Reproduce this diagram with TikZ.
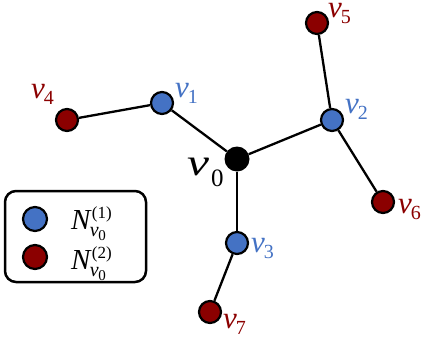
\documentclass[tikz,border=0pt]{standalone}
\usepackage{graphicx}
\usepackage{fontspec}
\setmainfont{Liberation Serif}
\definecolor{nblue}{RGB}{68,114,196}
\definecolor{nred}{RGB}{139,0,0}
\newcommand\vlab[1]{\fontsize{31}{31}\selectfont\textit{v}\kern-1pt\raisebox{-6pt}{\fontsize{20}{20}\selectfont #1}}
\newcommand\nlab[1]{\fontsize{29}{29}\selectfont\textit{N}\rlap{\raisebox{11pt}{\fontsize{17}{17}\selectfont(#1)}}\kern-2pt\raisebox{-7pt}{\fontsize{20}{20}\selectfont\textit{v}\kern-0.5pt\raisebox{-4pt}{\fontsize{15}{15}\selectfont 0}}}
\begin{document}
\begin{tikzpicture}[x=1pt,y=-1pt,
  vtx/.style={circle,draw=black,line width=2.2pt,minimum size=22pt,inner sep=0pt},
  bv/.style={vtx,fill=nblue},
  rv/.style={vtx,fill=nred},
  lab/.style={anchor=base west,inner sep=0pt},
  edge/.style={line width=2.3pt,black}]
\useasboundingbox (0,0) rectangle (423,338);
\node[circle,fill=black,minimum size=25pt,inner sep=0pt] (v0) at (237,159) {};
\node[bv] (v1) at (162,103) {};
\node[bv] (v2) at (332,120) {};
\node[bv] (v3) at (237,243) {};
\node[rv] (v4) at (67,120) {};
\node[rv] (v5) at (317,23) {};
\node[rv] (v6) at (383,202) {};
\node[rv] (v7) at (210,312) {};
\draw[edge] (v0) -- (v1);
\draw[edge] (v0) -- (v2);
\draw[edge] (v0) -- (v3);
\draw[edge] (v1) -- (v4);
\draw[edge] (v2) -- (v5);
\draw[edge] (v2) -- (v6);
\draw[edge] (v3) -- (v7);
\node[lab,text=nblue] (l1) at (175,97) {\vlab{1}};
\node[lab,text=nblue] (l2) at (345,113) {\vlab{2}};
\node[lab,text=nblue] (l3) at (251,252) {\vlab{3}};
\node[lab,text=nred] (l4) at (31,98) {\vlab{4}};
\node[lab,text=nred] (l5) at (328,17) {\vlab{5}};
\node[lab,text=nred] (l6) at (398,213) {\vlab{6}};
\node[lab,text=nred] (l7) at (223,328) {\vlab{7}};
\node[lab] (l0) at (187,175) {\fontsize{38}{38}\selectfont\scalebox{1.3}[1]{\textit{v}}\kern2pt\raisebox{-11pt}{\fontsize{25}{25}\selectfont 0}};
\node[draw,line width=2.5pt,rounded corners=11pt,minimum width=141pt,minimum height=91pt,inner sep=0pt] (legend) at (75.5,236.5) {};
\node[bv,minimum size=24pt] (lb) at (35,219) {};
\node[rv,minimum size=24pt] (lr) at (35,257) {};
\node[lab] (n1) at (71,229) {\nlab{1}};
\node[lab] (n2) at (71,269) {\nlab{2}};
\end{tikzpicture}
\end{document}
